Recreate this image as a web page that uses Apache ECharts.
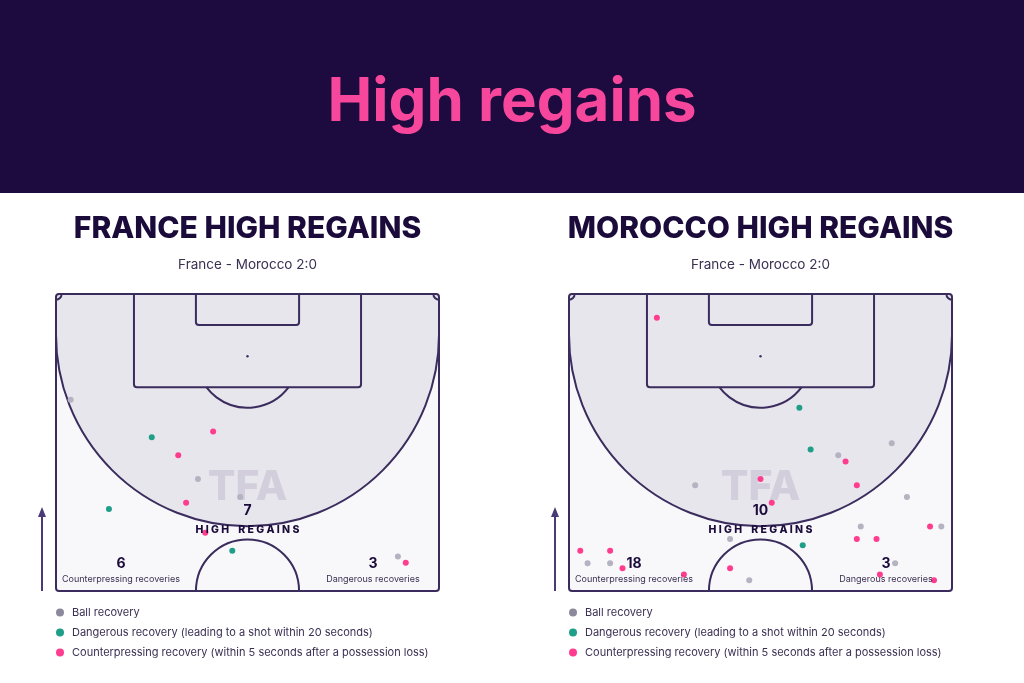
<!DOCTYPE html>
<html><head><meta charset="utf-8">
<script src="https://cdn.jsdelivr.net/npm/echarts@6/dist/echarts.min.js"></script>
<style>html,body{margin:0;padding:0;background:#fff}#c{width:1024px;height:683px}</style>
</head><body><div id="c"></div>
<script>
const pageTitle = 'High regains';
const panelTitles = ['FRANCE HIGH REGAINS', 'MOROCCO HIGH REGAINS'];
const matchLabel = 'France - Morocco 2:0';
const categories = ['Ball recovery', 'Dangerous recovery (leading to a shot within 20 seconds)', 'Counterpressing recovery (within 5 seconds after a possession loss)'];
const statLabels = ['H I G H    R E G A I N S', 'Counterpressing recoveries', 'Dangerous recoveries'];
const watermark = 'TFA';
// totals: [high regains, counterpressing, dangerous]
const franceTotals = [7, 6, 3];
const moroccoTotals = [10, 18, 3];
// points: [across pitch in m (0-68), distance from goal line in m]
const franceBall = [[2.6,18.7],[25.2,32.7],[32.7,35.9],[60.7,46.4]];
const franceDangerous = [[17.0,25.3],[9.4,38.0],[31.3,45.4]];
const franceCounter = [[27.9,24.3],[21.7,28.5],[23.1,36.9],[26.5,42.2],[62.1,47.5]];
const moroccoBall = [[57.3,26.4],[47.8,28.5],[22.4,33.8],[60.0,35.9],[66.1,41.1],[51.8,41.1],[28.6,43.3],[3.3,47.6],[7.3,47.6],[32.0,50.6],[57.9,47.6]];
const moroccoDangerous = [[40.9,20.1],[42.9,27.5],[41.5,44.4]];
const moroccoCounter = [[15.6,4.2],[49.1,29.6],[34.0,32.7],[51.1,33.8],[36.0,36.9],[64.1,41.1],[51.1,43.3],[54.6,43.3],[2.0,45.4],[7.3,45.4],[9.5,48.5],[20.4,49.6],[28.6,48.5],[55.2,49.6],[64.8,50.6]];

const PITCH_W = 68, PITCH_H = 52.5;
const LINE = '#3b2c5e';
const DARK = '#1b0b3b';
const TEXT = '#3a3052';
const COLORS = ['#b5b2c1', '#1f9e88', '#ff3d8e'];
const LEGEND_COLORS = ['#8d899c', '#1f9e88', '#ff3d8e'];

function pitchRender(params, api) {
  const P = (x, y) => api.coord([x, y]);
  const tl = P(0, 0), br = P(PITCH_W, PITCH_H);
  const w = br[0] - tl[0], h = br[1] - tl[1];
  const sx = w / PITCH_W;
  const ls = {stroke: LINE, lineWidth: 2, fill: null};
  const ch = [];
  ch.push({type: 'rect', shape: {x: tl[0], y: tl[1], width: w, height: h, r: 3}, style: {fill: '#f8f8fa'}});
  const c = P(34, 7.2), R = w / 2;
  const pts = [[tl[0], tl[1]], [br[0], tl[1]], [br[0], c[1]]];
  for (let a = 0; a <= 180; a += 2) { const t = a * Math.PI / 180; pts.push([c[0] + R * Math.cos(t), c[1] + R * Math.sin(t)]); }
  pts.push([tl[0], c[1]]);
  ch.push({type: 'polygon', shape: {points: pts}, style: {fill: '#e8e6ed'}});
  ch.push({type: 'arc', shape: {cx: c[0], cy: c[1], r: R, startAngle: 0, endAngle: Math.PI}, style: ls});
  const pb1 = P(13.84, 0), pb2 = P(54.16, 16.5);
  ch.push({type: 'rect', shape: {x: pb1[0], y: pb1[1], width: pb2[0] - pb1[0], height: pb2[1] - pb1[1], r: [0, 0, 3, 3]}, style: ls});
  const sb1 = P(24.84, 0), sb2 = P(43.16, 5.5);
  ch.push({type: 'rect', shape: {x: sb1[0], y: sb1[1], width: sb2[0] - sb1[0], height: sb2[1] - sb1[1], r: [0, 0, 3, 3]}, style: ls});
  const ps = P(34, 11);
  ch.push({type: 'circle', shape: {cx: ps[0], cy: ps[1], r: 1.2}, style: {fill: LINE}});
  const a0 = Math.asin(5.5 / 9.15);
  ch.push({type: 'arc', shape: {cx: ps[0], cy: ps[1], r: 9.15 * sx, startAngle: a0, endAngle: Math.PI - a0}, style: ls});
  const cc = P(34, PITCH_H);
  ch.push({type: 'arc', shape: {cx: cc[0], cy: cc[1], r: 9.15 * sx, startAngle: Math.PI, endAngle: 2 * Math.PI}, style: ls});
  ch.push({type: 'arc', shape: {cx: tl[0], cy: tl[1], r: 1 * sx, startAngle: 0, endAngle: Math.PI / 2}, style: ls});
  ch.push({type: 'arc', shape: {cx: br[0], cy: tl[1], r: 1 * sx, startAngle: Math.PI / 2, endAngle: Math.PI}, style: ls});
  ch.push({type: 'rect', shape: {x: tl[0], y: tl[1], width: w, height: h, r: 3}, style: ls});
  return {type: 'group', children: ch};
}

const grids = [
  {left: 56, top: 294, width: 383, height: 297},
  {left: 569, top: 294, width: 383, height: 297}
];
const xAxes = grids.map((g, i) => ({gridIndex: i, type: 'value', min: 0, max: PITCH_W, show: false}));
const yAxes = grids.map((g, i) => ({gridIndex: i, type: 'value', min: 0, max: PITCH_H, inverse: true, show: false}));

const panels = [
  {ball: franceBall, dang: franceDangerous, counter: franceCounter, totals: franceTotals, title: panelTitles[0]},
  {ball: moroccoBall, dang: moroccoDangerous, counter: moroccoCounter, totals: moroccoTotals, title: panelTitles[1]}
];

const series = [];
panels.forEach((p, i) => {
  series.push({type: 'custom', xAxisIndex: i, yAxisIndex: i, data: [[34, 26]], renderItem: pitchRender, z: 1, silent: true, clip: false});
  [p.ball, p.dang, p.counter].forEach((d, k) => {
    series.push({type: 'scatter', name: categories[k], xAxisIndex: i, yAxisIndex: i, data: d, symbolSize: 6,
      itemStyle: {color: COLORS[k], opacity: 1}, z: 5, silent: true});
  });
});

const font = 'Inter, "Noto Sans", sans-serif';
const graphic = [
  {type: 'rect', shape: {x: 0, y: 0, width: 1024, height: 193}, style: {fill: '#1d0a3e'}, z: 0},
  {type: 'text', x: 512, y: 103, z: 10, style: {text: pageTitle, fill: '#f7479c', font: '700 60px ' + font, textAlign: 'center', textVerticalAlign: 'middle'}}
];
const offsets = [0, 513];
panels.forEach((p, i) => {
  const ox = offsets[i];
  const cx = 247.5 + ox;
  graphic.push(
    {type: 'text', x: cx, y: 229, z: 10, style: {text: p.title, fill: DARK, font: '800 30px ' + font, textAlign: 'center', textVerticalAlign: 'middle'}},
    {type: 'text', x: cx, y: 265, z: 10, style: {text: matchLabel, fill: TEXT, font: '400 13.5px ' + font, textAlign: 'center', textVerticalAlign: 'middle'}},
    {type: 'text', x: cx, y: 488, z: 3, style: {text: watermark, fill: '#d2cedb', font: '800 41px ' + font, textAlign: 'center', textVerticalAlign: 'middle'}},
    {type: 'text', x: cx, y: 511, z: 10, style: {text: String(p.totals[0]), fill: DARK, font: '700 14px ' + font, textAlign: 'center', textVerticalAlign: 'middle'}},
    {type: 'text', x: cx, y: 530, z: 10, style: {text: statLabels[0], fill: DARK, font: '800 10.5px ' + font, textAlign: 'center', textVerticalAlign: 'middle'}},
    {type: 'text', x: 121 + ox, y: 564, z: 10, style: {text: String(p.totals[1]), fill: DARK, font: '700 14px ' + font, textAlign: 'center', textVerticalAlign: 'middle'}},
    {type: 'text', x: 121 + ox, y: 579, z: 10, style: {text: statLabels[1], fill: TEXT, font: '400 9px ' + font, textAlign: 'center', textVerticalAlign: 'middle'}},
    {type: 'text', x: 373 + ox, y: 564, z: 10, style: {text: String(p.totals[2]), fill: DARK, font: '700 14px ' + font, textAlign: 'center', textVerticalAlign: 'middle'}},
    {type: 'text', x: 373 + ox, y: 579, z: 10, style: {text: statLabels[2], fill: TEXT, font: '400 9px ' + font, textAlign: 'center', textVerticalAlign: 'middle'}},
    {type: 'line', z: 10, shape: {x1: 42 + ox, y1: 591, x2: 42 + ox, y2: 514}, style: {stroke: '#4a3a78', lineWidth: 2}},
    {type: 'polygon', z: 10, shape: {points: [[42 + ox, 507], [38 + ox, 517], [46 + ox, 517]]}, style: {fill: '#4a3a78'}}
  );
});

const legends = [51, 564].map(l => ({
  left: l, top: 602, orient: 'vertical', itemGap: 9, icon: 'circle', itemWidth: 8, itemHeight: 8,
  selectedMode: false,
  textStyle: {fontSize: 11, color: TEXT, fontFamily: font, padding: [0, 0, 0, 3]},
  data: categories.map((c, k) => ({name: c, itemStyle: {color: LEGEND_COLORS[k]}}))
}));

const chart = echarts.init(document.getElementById('c'), null, {renderer: 'canvas'});
chart.setOption({
  backgroundColor: '#ffffff',
  animation: false,
  grid: grids, xAxis: xAxes, yAxis: yAxes,
  legend: legends,
  series: series,
  graphic: graphic
});
</script></body></html>
